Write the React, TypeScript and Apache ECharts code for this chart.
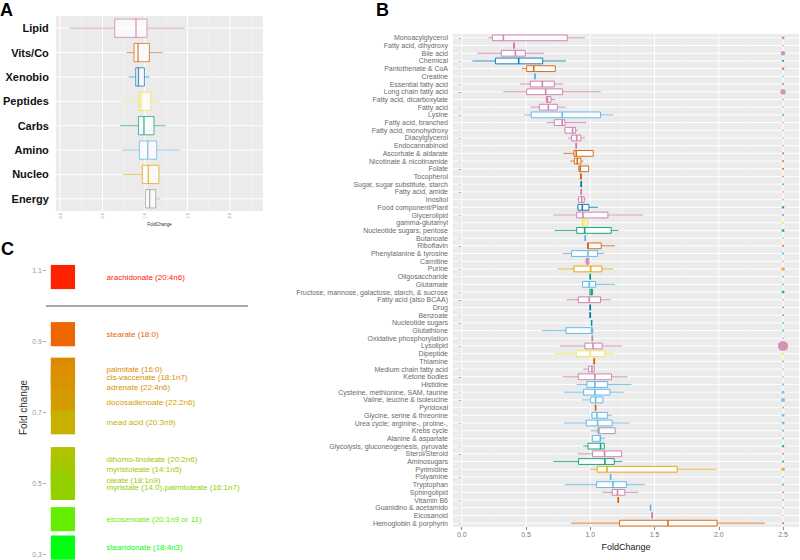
import React, { useEffect, useRef } from 'react';
import * as echarts from 'echarts';

// ---------- Panel A (super pathways) ----------
const A_CATS = ['Lipid', 'Vits/Co', 'Xenobio', 'Peptides', 'Carbs', 'Amino', 'Nucleo', 'Energy'];
const A_LOW = [0.116, 0.785, 0.809, 0.723, 0.707, 0.730, 0.742, 1.000];
const A_Q1 = [0.644, 0.871, 0.891, 0.930, 0.923, 0.934, 0.969, 1.005];
const A_MED = [0.894, 0.918, 0.923, 0.950, 0.988, 1.032, 1.040, 1.055];
const A_Q3 = [1.023, 1.052, 0.993, 1.067, 1.106, 1.138, 1.164, 1.126];
const A_HIGH = [1.470, 1.208, 1.052, 1.169, 1.240, 1.416, 1.164, 1.181];
const A_TICKS = [0, 0.5, 1, 1.5, 2];
const A_MINOR = [0.25, 0.75, 1.25, 1.75, 2.25];

// ---------- Panel B (sub pathways) ----------
const B_CATS = [
  'Monoacylglycerol', 'Fatty acid, dihydroxy', 'Bile acid', 'Chemical', 'Pantothenate & CoA', 'Creatine',
  'Essential fatty acid', 'Long chain fatty acid', 'Fatty acid, dicarboxylate', 'Fatty acid', 'Lysine',
  'Fatty acid, branched', 'Fatty acid, monohydroxy', 'Diacylglycerol', 'Endocannabinoid', 'Ascorbate & aldarate',
  'Nicotinate & nicotinamide', 'Folate', 'Tocopherol', 'Sugar, sugar substitute, starch', 'Fatty acid, amide',
  'Inositol', 'Food component/Plant', 'Glycerolipid', 'gamma-glutamyl', 'Nucleotide sugars, pentose', 'Butanoate',
  'Riboflavin', 'Phenylalanine & tyrosine', 'Carnitine', 'Purine', 'Oligosaccharide', 'Glutamate',
  'Fructose, mannose, galactose, starch, & sucrose', 'Fatty acid (also BCAA)', 'Drug', 'Benzoate',
  'Nucleotide sugars', 'Glutathione', 'Oxidative phosphorylation', 'Lysolipid', 'Dipeptide', 'Thiamine',
  'Medium chain fatty acid', 'Ketone bodies', 'Histidine', 'Cysteine, methionine, SAM, taurine',
  'Valine, leucine & isoleucine', 'Pyridoxal', 'Glycine, serine & threonine', 'Urea cycle; arginine-, proline-,',
  'Krebs cycle', 'Alanine & aspartate', 'Glycolysis, gluconeogenesis, pyruvate', 'Sterol/Steroid', 'Aminosugars',
  'Pyrimidine', 'Polyamine', 'Tryptophan', 'Sphingolipid', 'Vitamin B6', 'Guanidino & acetamido', 'Eicosanoid',
  'Hemoglobin & porphyrin',
];
// super pathway index: 0 Lipid, 1 Vits/Co, 2 Xenobio, 3 Peptides, 4 Carbs, 5 Amino, 6 Nucleo, 7 Energy
const B_PATH = [
  0, 0, 0, 2, 1, 5, 0, 0, 0, 0, 5, 0, 0, 0, 0, 1,
  1, 1, 1, 2, 0, 0, 2, 0, 3, 4, 5, 1, 5, 0, 6, 4,
  5, 4, 0, 2, 2, 4, 5, 7, 0, 3, 1, 0, 0, 5, 5, 5,
  1, 5, 5, 7, 5, 4, 0, 4, 6, 5, 5, 0, 1, 5, 0, 1,
];
const B_LOW = [
  0.207, 0.407, 0.122, 0.083, 0.466, 0.570, 0.453, 0.324, 0.653, 0.534, 0.484, 0.661, 0.798, 0.829, 0.891, 0.790,
  0.842, 0.904, 0.927, 0.930, 0.930, 0.899, 0.899, 0.712, 0.935, 0.723, 0.961, 0.974, 0.785, 0.956, 0.746, 1.000,
  0.938, 0.997, 0.816, 1.000, 1.000, 1.010, 0.624, 1.016, 0.764, 0.725, 1.031, 0.946, 0.785, 0.894, 0.795, 0.935,
  1.041, 1.005, 0.793, 1.003, 1.010, 0.946, 0.902, 0.712, 0.997, 1.158, 0.803, 1.093, 1.218, 1.469, 1.482, 0.852,
];
const B_Q1 = [
  0.238, 0.407, 0.308, 0.262, 0.505, 0.570, 0.534, 0.505, 0.658, 0.604, 0.541, 0.720, 0.803, 0.855, 0.891, 0.873,
  0.876, 0.912, 0.927, 0.930, 0.930, 0.909, 0.904, 0.894, 0.938, 0.894, 0.961, 0.979, 0.855, 0.969, 0.873, 1.000,
  0.940, 0.997, 0.907, 1.000, 1.000, 1.010, 0.811, 1.016, 0.959, 0.891, 1.031, 0.987, 0.907, 0.974, 0.948, 1.003,
  1.041, 1.013, 0.969, 1.060, 1.016, 0.982, 1.018, 0.909, 1.054, 1.158, 1.049, 1.171, 1.218, 1.469, 1.482, 1.228,
];
const B_MED = [
  0.324, 0.407, 0.417, 0.443, 0.560, 0.570, 0.627, 0.653, 0.668, 0.674, 0.782, 0.782, 0.863, 0.894, 0.891, 0.891,
  0.899, 0.922, 0.927, 0.930, 0.930, 0.933, 0.938, 0.943, 0.951, 0.956, 0.961, 0.984, 0.982, 0.979, 1.003, 1.000,
  0.992, 1.008, 0.992, 1.000, 1.000, 1.010, 1.010, 1.016, 1.021, 1.000, 1.031, 1.013, 1.036, 1.036, 1.036, 1.041,
  1.041, 1.052, 1.057, 1.067, 1.078, 1.080, 1.111, 1.114, 1.130, 1.158, 1.176, 1.212, 1.218, 1.469, 1.482, 1.604,
];
const B_Q3 = [
  0.821, 0.407, 0.495, 0.630, 0.728, 0.570, 0.720, 0.785, 0.694, 0.744, 1.080, 0.803, 0.886, 0.927, 0.891, 1.023,
  0.927, 0.987, 0.927, 0.930, 0.930, 0.953, 0.990, 1.137, 0.974, 1.163, 0.961, 1.085, 1.057, 0.990, 1.091, 1.000,
  1.041, 1.018, 1.080, 1.000, 1.000, 1.010, 1.018, 1.016, 1.093, 1.114, 1.031, 1.031, 1.166, 1.135, 1.153, 1.098,
  1.041, 1.135, 1.171, 1.194, 1.080, 1.109, 1.244, 1.187, 1.676, 1.158, 1.282, 1.269, 1.218, 1.469, 1.482, 1.987,
];
const B_HIGH = [
  0.959, 0.407, 0.640, 0.811, 0.728, 0.570, 0.790, 1.080, 0.728, 0.808, 1.179, 0.971, 0.907, 0.959, 0.891, 1.023,
  0.946, 0.987, 0.927, 0.930, 0.930, 0.966, 1.060, 1.412, 0.997, 1.220, 0.961, 1.192, 1.109, 0.990, 1.179, 1.000,
  1.192, 1.018, 1.158, 1.000, 1.000, 1.010, 1.028, 1.016, 1.249, 1.179, 1.031, 1.031, 1.290, 1.321, 1.262, 1.098,
  1.041, 1.168, 1.308, 1.194, 1.117, 1.109, 1.244, 1.249, 1.982, 1.158, 1.427, 1.373, 1.218, 1.469, 1.482, 2.358,
];
// dot size at FoldChange = 2.5 (number of metabolites)
const B_DOT = [
  3, 1.5, 4.5, 2, 2.5, 1.5, 2.5, 5.5, 1.5, 1.5, 2.5, 1.5, 1.5, 1.5, 1.5, 2,
  2, 2, 1.5, 1.5, 1.5, 1.5, 2.5, 2.5, 2.5, 3, 1.5, 2, 2.5, 1.5, 3.5, 1.5,
  2, 3, 1.5, 1.5, 1.5, 1.5, 2.5, 1.5, 10, 2.5, 1.5, 1.5, 1.5, 2, 3, 4,
  1.5, 3, 3, 2, 2, 2.5, 2, 2, 3.5, 1.5, 2.5, 2, 1.5, 1.5, 1, 2,
];
const B_DOT_X = 2.5;
const B_TICKS = [0, 0.5, 1, 1.5, 2, 2.5];
const B_MINOR = [0.25, 0.75, 1.25, 1.75, 2.25];

// ---------- Panel C (fatty acids) ----------
const C_LABELS = [
  'arachidonate (20:4n6)', 'stearate (18:0)', 'palmitate (16:0)', 'cis-vaccenate (18:1n7)', 'adrenate (22:4n6)',
  'docosadienoate (22:2n6)', 'mead acid (20:3n9)', 'dihomo-linoleate (20:2n6)', 'myristoleate (14:1n5)',
  'oleate (18:1n9)', 'myristate (14.0),palmitoleate (16:1n7)', 'eicosenoate (20:1n9 or 11)', 'stearidonate (18:4n3)',
];
const C_FC = [1.082, 0.921, 0.821, 0.800, 0.771, 0.729, 0.673, 0.569, 0.539, 0.510, 0.488, 0.400, 0.320];
const C_TICKS = [0.3, 0.5, 0.7, 0.9, 1.1];
const C_CUTOFF = 1.0;

// ---------- styles ----------
const FONT = '"Liberation Sans", Arial, sans-serif';
const PATH_COLORS = ['#CC79A7', '#D55E00', '#0072B2', '#F0E442', '#009E73', '#56B4E9', '#E69F00', '#999999'];
const C_RAMP: [number, string][] = [
  [0.32, '#00ff10'], [0.40, '#66ee00'], [0.50, '#99cc00'], [0.57, '#b0c200'], [0.67, '#c8b000'],
  [0.73, '#d29c00'], [0.82, '#dc8a00'], [0.92, '#ee6600'], [1.08, '#ff2200'],
];
const TILE_H = 0.068;
const TILE_X0 = 0.19;
const TILE_X1 = 1.15;
const LABEL_X = 2.4;

function hex2rgb(h: string) {
  return [parseInt(h.slice(1, 3), 16), parseInt(h.slice(3, 5), 16), parseInt(h.slice(5, 7), 16)];
}
function rampColor(v: number) {
  if (v <= C_RAMP[0][0]) return C_RAMP[0][1];
  for (let i = 1; i < C_RAMP.length; i++) {
    if (v <= C_RAMP[i][0]) {
      const [v0, c0] = C_RAMP[i - 1];
      const [v1, c1] = C_RAMP[i];
      const t = (v - v0) / (v1 - v0);
      const a = hex2rgb(c0), b = hex2rgb(c1);
      const m = a.map((x, k) => Math.round(x + (b[k] - x) * t));
      return `rgb(${m[0]},${m[1]},${m[2]})`;
    }
  }
  return C_RAMP[C_RAMP.length - 1][1];
}

function hLines(lw: number) {
  return (params: any, api: any) => {
    const cs = params.coordSys;
    const y = api.coord([0, api.value(1)])[1];
    return {
      type: 'line', silent: true,
      shape: { x1: cs.x, y1: y, x2: cs.x + cs.width, y2: y },
      style: { stroke: '#ffffff', lineWidth: lw },
    };
  };
}
function vLines(lw: number, color: string) {
  return (params: any, api: any) => {
    const cs = params.coordSys;
    const x = api.coord([api.value(0), 0])[0];
    return {
      type: 'line', silent: true,
      shape: { x1: x, y1: cs.y, x2: x, y2: cs.y + cs.height },
      style: { stroke: color, lineWidth: lw },
    };
  };
}
function boxes(path: number[], frac: number, lw: number, medLw: number, opacity: number) {
  return (params: any, api: any) => {
    const cat = api.value(0);
    const lo = api.coord([api.value(1), cat]);
    const q1 = api.coord([api.value(2), cat]);
    const md = api.coord([api.value(3), cat]);
    const q3 = api.coord([api.value(4), cat]);
    const hi = api.coord([api.value(5), cat]);
    const band = api.size([0, 1])[1];
    const h = band * frac;
    const y = md[1];
    const color = PATH_COLORS[path[params.dataIndex]];
    return {
      type: 'group', silent: true,
      children: [
        { type: 'line', shape: { x1: lo[0], y1: y, x2: q1[0], y2: y }, style: { stroke: color, lineWidth: lw, opacity: opacity * 0.85 } },
        { type: 'line', shape: { x1: q3[0], y1: y, x2: hi[0], y2: y }, style: { stroke: color, lineWidth: lw, opacity: opacity * 0.85 } },
        { type: 'rect', shape: { x: q1[0], y: y - h / 2, width: q3[0] - q1[0], height: h }, style: { fill: '#ffffff', stroke: color, lineWidth: lw, opacity } },
        { type: 'line', shape: { x1: md[0], y1: y - h / 2, x2: md[0], y2: y + h / 2 }, style: { stroke: color, lineWidth: medLw, opacity } },
      ],
    };
  };
}

export default function App() {
  const ref = useRef<HTMLDivElement>(null);
  useEffect(() => {
    if (!ref.current) return;
    const chart = echarts.init(ref.current, undefined, { renderer: 'svg' });
    const fmt1 = (v: number) => v.toFixed(1);
    const titleStyle = { fontSize: 18, fontWeight: 'bold', color: '#000', fontFamily: FONT };
    const option: any = {
      animation: false,
      textStyle: { fontFamily: FONT },
      title: [
        { text: 'A', left: 0, top: 1, padding: 0, textStyle: titleStyle },
        { text: 'B', left: 376, top: 1, padding: 0, textStyle: titleStyle },
        { text: 'C', left: 1, top: 240, padding: 0, textStyle: titleStyle },
      ],
      grid: [
        { left: 55, top: 16, width: 208, height: 195, show: true, backgroundColor: '#ebebeb', borderWidth: 0 },
        { left: 453, top: 34, width: 346, height: 493, show: true, backgroundColor: '#ebebeb', borderWidth: 0 },
        { left: 46, top: 255, width: 202, height: 305, show: false },
      ],
      xAxis: [
        {
          gridIndex: 0, type: 'value', min: -0.05, max: 2.39,
          axisLine: { show: false }, axisTick: { show: false }, splitLine: { show: false },
          axisLabel: { customValues: A_TICKS, rotate: 90, fontSize: 4, color: '#888', margin: 2, formatter: fmt1 },
          name: 'FoldChange', nameLocation: 'middle', nameGap: 10,
          nameTextStyle: { fontSize: 4.5, color: '#333' },
        },
        {
          gridIndex: 1, type: 'value', min: -0.068, max: 2.624,
          axisLine: { show: false }, splitLine: { show: false },
          axisTick: { show: true, customValues: B_TICKS, length: 3, lineStyle: { color: '#888' } },
          axisLabel: { customValues: B_TICKS, fontSize: 7, color: '#777', margin: 4, formatter: fmt1 },
          name: 'FoldChange', nameLocation: 'middle', nameGap: 15,
          nameTextStyle: { fontSize: 9, color: '#222' },
        },
        { gridIndex: 2, type: 'value', min: 0, max: 8, show: false },
      ],
      yAxis: [
        {
          gridIndex: 0, type: 'category', data: A_CATS, inverse: true,
          axisLine: { show: false }, axisTick: { show: false }, splitLine: { show: false },
          axisLabel: { fontSize: 11, fontWeight: 'bold', color: '#111', margin: 7, interval: 0 },
        },
        {
          gridIndex: 1, type: 'category', data: B_CATS, inverse: true,
          axisLine: { show: false }, splitLine: { show: false },
          axisTick: { show: true, length: 3, alignWithLabel: true, interval: 0, lineStyle: { color: '#888' } },
          axisLabel: { fontSize: 7, color: '#6a6a6a', margin: 5, interval: 0 },
        },
        {
          gridIndex: 2, type: 'value', min: 0.285, max: 1.144,
          axisLine: { show: false }, splitLine: { show: false },
          axisTick: { show: true, customValues: C_TICKS, length: 3, lineStyle: { color: '#aaa' } },
          axisLabel: { customValues: C_TICKS, fontSize: 7, color: '#999', margin: 4, formatter: fmt1 },
          name: 'Fold change', nameLocation: 'middle', nameGap: 16, nameRotate: 90,
          nameTextStyle: { fontSize: 10, color: '#333' },
        },
      ],
      series: [
        // Panel A
        { type: 'custom', xAxisIndex: 0, yAxisIndex: 0, z: 1, silent: true, renderItem: hLines(1), data: A_CATS.map((_, i) => [0, i]) },
        { type: 'custom', xAxisIndex: 0, yAxisIndex: 0, z: 1, silent: true, renderItem: vLines(0.5, '#f6f6f6'), data: A_MINOR.map((v) => [v, 0]) },
        { type: 'custom', xAxisIndex: 0, yAxisIndex: 0, z: 1, silent: true, renderItem: vLines(1, '#ffffff'), data: A_TICKS.map((v) => [v, 0]) },
        {
          type: 'custom', xAxisIndex: 0, yAxisIndex: 0, z: 2, silent: true,
          renderItem: boxes([0, 1, 2, 3, 4, 5, 6, 7], 0.75, 1, 1.4, 0.7),
          encode: { y: 0, x: [1, 2, 3, 4, 5] },
          data: A_CATS.map((_, i) => [i, A_LOW[i], A_Q1[i], A_MED[i], A_Q3[i], A_HIGH[i]]),
        },
        // Panel B
        { type: 'custom', xAxisIndex: 1, yAxisIndex: 1, z: 1, silent: true, renderItem: hLines(1), data: B_CATS.map((_, i) => [0, i]) },
        { type: 'custom', xAxisIndex: 1, yAxisIndex: 1, z: 1, silent: true, renderItem: vLines(0.5, '#f6f6f6'), data: B_MINOR.map((v) => [v, 0]) },
        { type: 'custom', xAxisIndex: 1, yAxisIndex: 1, z: 1, silent: true, renderItem: vLines(1, '#ffffff'), data: B_TICKS.map((v) => [v, 0]) },
        {
          type: 'custom', xAxisIndex: 1, yAxisIndex: 1, z: 2, silent: true,
          renderItem: boxes(B_PATH, 0.75, 1, 1.6, 0.9),
          encode: { y: 0, x: [1, 2, 3, 4, 5] },
          data: B_CATS.map((_, i) => [i, B_LOW[i], B_Q1[i], B_MED[i], B_Q3[i], B_HIGH[i]]),
        },
        {
          type: 'scatter', xAxisIndex: 1, yAxisIndex: 1, z: 3, silent: true, symbol: 'circle',
          symbolSize: (_v: any, p: any) => B_DOT[p.dataIndex],
          itemStyle: { color: (p: any) => PATH_COLORS[B_PATH[p.dataIndex]] },
          data: B_CATS.map((_, i) => [B_DOT_X, i]),
        },
        // Panel C
        {
          type: 'custom', xAxisIndex: 2, yAxisIndex: 2, z: 2, silent: true,
          encode: { x: 0, y: 1 },
          data: C_FC.map((v) => [TILE_X0, v]),
          renderItem: (params: any, api: any) => {
            const v = api.value(1);
            const p0 = api.coord([TILE_X0, v + TILE_H / 2]);
            const p1 = api.coord([TILE_X1, v - TILE_H / 2]);
            const lp = api.coord([LABEL_X, v]);
            const color = rampColor(v);
            return {
              type: 'group',
              children: [
                { type: 'rect', shape: { x: p0[0], y: p0[1], width: p1[0] - p0[0], height: p1[1] - p0[1] }, style: { fill: color } },
                {
                  type: 'text', x: lp[0], y: lp[1],
                  style: { text: C_LABELS[params.dataIndex], fill: color, fontSize: 8, fontFamily: FONT, align: 'left', verticalAlign: 'middle' },
                },
              ],
            };
          },
          markLine: {
            silent: true, symbol: 'none', label: { show: false },
            lineStyle: { color: '#8a8a8a', width: 1.6, type: 'solid' },
            data: [{ yAxis: C_CUTOFF }],
          },
        },
      ],
    };
    chart.setOption(option);
    return () => chart.dispose();
  }, []);
  return <div ref={ref} style={{ position: 'absolute', left: 0, top: 0, width: 800, height: 560 }} />;
}
